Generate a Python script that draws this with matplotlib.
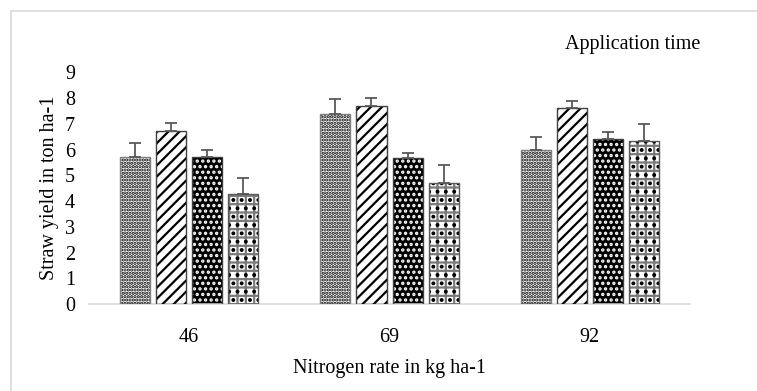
import numpy as np
import matplotlib
matplotlib.use("Agg")
import matplotlib.pyplot as plt
from matplotlib.patches import Rectangle

plt.rcParams['font.family'] = ['Liberation Serif', 'DejaVu Serif']
plt.rcParams['font.size'] = 14.5
plt.rcParams['hatch.linewidth'] = 1.6

# data
rates = ["46", "69", "92"]
t1 = [5.71, 7.40, 5.99]
t2 = [6.73, 7.69, 7.60]
t3 = [5.71, 5.67, 6.42]
t4 = [4.29, 4.72, 6.34]
e1 = [0.53, 0.55, 0.51]
e2 = [0.32, 0.31, 0.27]
e3 = [0.28, 0.21, 0.25]
e4 = [0.62, 0.68, 0.64]

series = [t1, t2, t3, t4]
errors = [e1, e2, e3, e4]
# facecolor, hatch, hatch colour, outline colour
styles = [
    ("white", ".....", "black", "#7f7f7f"),
    ("white", "///", "black", "#404040"),
    ("black", "...", "white", "#404040"),
    ("white", "++", "#7a7a7a", "#5a5a5a"),
]

fig = plt.figure(figsize=(7.57, 3.91), dpi=100)
ax = fig.add_axes([0.1176, 0.2225, 0.7939, 0.5925])

x = np.arange(len(rates))
width = 0.15
step = 0.18

for i, (vals, errs) in enumerate(zip(series, errors)):
    fc, hatch, hc, ec = styles[i]
    pos = x + (i - 1.5) * step
    ax.bar(pos, vals, width, color=fc, linewidth=0, zorder=2)
    ax.bar(pos, vals, width, fill=False, hatch=hatch, edgecolor=hc, linewidth=0, zorder=3)
    ax.bar(pos, vals, width, fill=False, edgecolor=ec, linewidth=1.0, zorder=4)
    ax.errorbar(pos, vals, yerr=[np.zeros(len(errs)), errs], fmt="none",
                ecolor="#595959", elinewidth=1.3, capsize=4, capthick=1.3, zorder=5)

# the black squares of the last pattern
vals = series[3]
ax.bar(x + 1.5 * step, vals, width, fill=False, hatch="..", edgecolor="black",
       linewidth=0, zorder=3)

ax.set_xlim(-0.5, 2.5)
ax.set_ylim(0, 9)
ax.set_xticks(x)
ax.set_xticklabels(rates)
ax.set_yticks(range(10))
ax.tick_params(axis="both", length=0)
ax.tick_params(axis="x", pad=17)
ax.tick_params(axis="y", pad=10)
for s in ["top", "right", "left"]:
    ax.spines[s].set_visible(False)
ax.spines["bottom"].set_color("#d9d9d9")
ax.spines["bottom"].set_linewidth(1.2)

ax.set_xlabel("Nitrogen rate in kg ha-1", labelpad=9)
ax.set_ylabel("Straw yield in ton ha-1", labelpad=4)

fig.text(0.746, 0.885, "Application time", ha="left", va="center")

# light chart frame
fig.patches.append(Rectangle((0.0141, -0.1), 1.2, 1.0726, transform=fig.transFigure,
                             fill=False, edgecolor="#d9d9d9", linewidth=1.2))

fig.savefig("out.png", dpi=100)
